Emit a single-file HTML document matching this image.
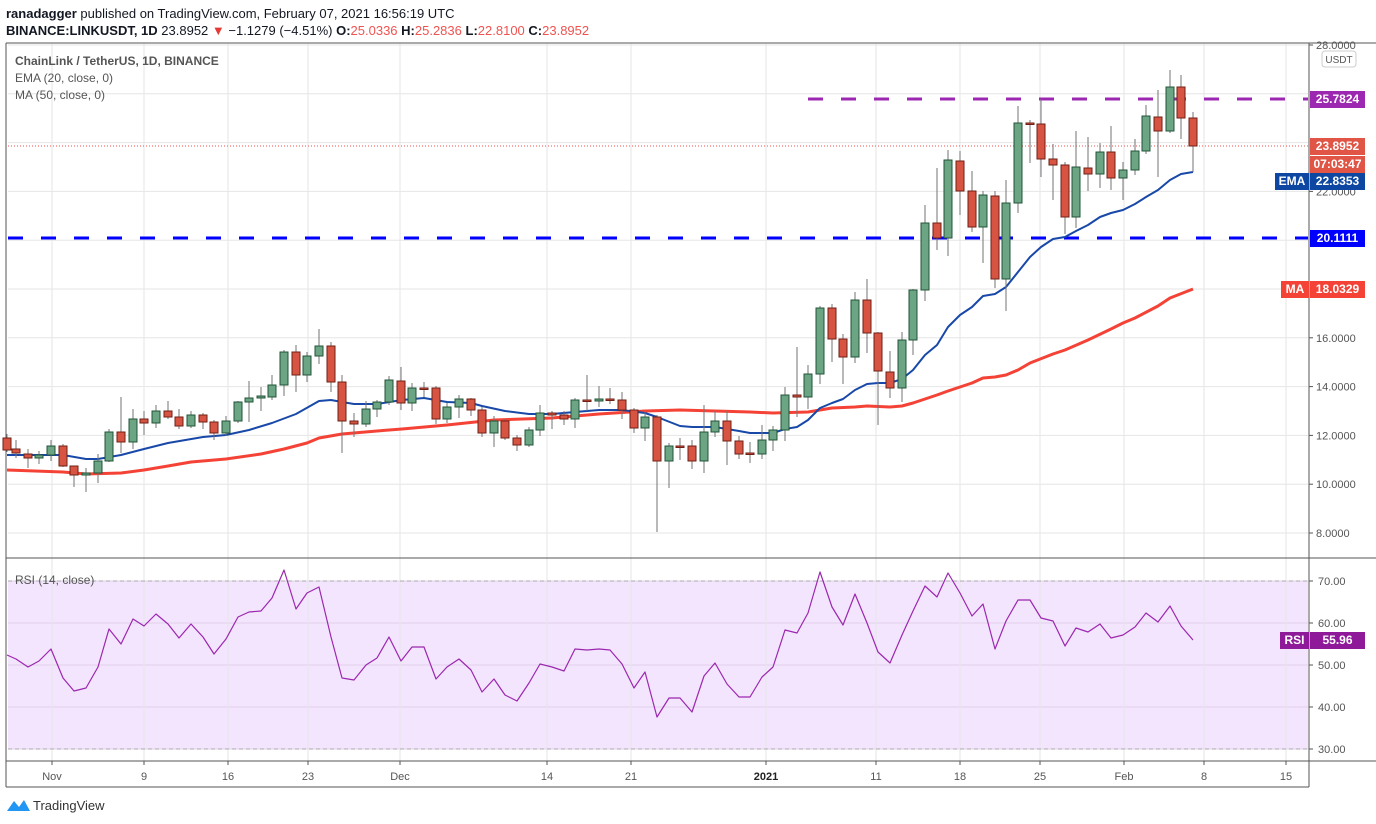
<!DOCTYPE html>
<html><head><meta charset="utf-8"><style>
html,body{margin:0;padding:0;background:#fff;width:1376px;height:824px;overflow:hidden;font-family:"Liberation Sans",sans-serif}
svg{position:absolute;left:0;top:0}
</style></head><body>
<svg id="s" width="1376" height="824" xmlns="http://www.w3.org/2000/svg" font-family="Liberation Sans, sans-serif">
<text x="6" y="18" font-size="13" fill="#131722"><tspan font-weight="bold">ranadagger</tspan> published on TradingView.com, February 07, 2021 16:56:19 UTC</text>
<text x="6" y="35" font-size="13" fill="#131722"><tspan font-weight="bold">BINANCE:LINKUSDT, 1D</tspan> 23.8952 <tspan fill="#e53935">▼</tspan> −1.1279 (−4.51%) <tspan font-weight="bold">O:</tspan><tspan fill="#ef5350">25.0336</tspan> <tspan font-weight="bold">H:</tspan><tspan fill="#ef5350">25.2836</tspan> <tspan font-weight="bold">L:</tspan><tspan fill="#ef5350">22.8100</tspan> <tspan font-weight="bold">C:</tspan><tspan fill="#ef5350">23.8952</tspan></text>
<g id="g"></g>
</svg>
<script>
var S='';
function L(x1,y1,x2,y2,c,w,d){S+='<line x1="'+x1+'" y1="'+y1+'" x2="'+x2+'" y2="'+y2+'" stroke="'+c+'" stroke-width="'+(w||1)+'"'+(d?' stroke-dasharray="'+d+'"':'')+'/>';}
function T(x,y,t,o){o=o||{};S+='<text x="'+x+'" y="'+y+'" font-size="'+(o.s||12)+'" fill="'+(o.c||'#4a4a4a')+'"'+(o.a?' text-anchor="'+o.a+'"':'')+(o.b?' font-weight="bold"':'')+'>'+t+'</text>';}
function R(x,y,w,h,f,st){S+='<rect x="'+x+'" y="'+y+'" width="'+w+'" height="'+h+'" fill="'+f+'"'+(st?' stroke="'+st+'"':'')+'/>';}
// RSI background
R(8,581,1300,168,'#f3e5fd');
// grid
var px=function(p){return 45+(28-p)*24.4;};
for(var p=8;p<=28;p+=2)L(8,px(p),1308,px(p),'#e6e6e6');
for(var r=30;r<=70;r+=10)L(8,581+(70-r)*4.2,1308,581+(70-r)*4.2,'#e0d0ea');
var dates=[[52,'Nov'],[144,'9'],[228,'16'],[308,'23'],[400,'Dec'],[547,'14'],[631,'21'],[766,'2021',1],[876,'11'],[960,'18'],[1040,'25'],[1124,'Feb'],[1204,'8'],[1286,'15']];
dates.forEach(function(d){L(d[0],43,d[0],761,'#e6e6e6');L(d[0],761,d[0],765,'#555');T(d[0],780,d[1],{a:'middle',s:11,b:d[2],c:d[2]?'#222':'#555'});});
L(8,581,1308,581,'#aaa',1,'4 3');L(8,749,1308,749,'#aaa',1,'4 3');
// frame
L(6,43,1376,43,'#555');L(6,43,6,787,'#555');L(1309,43,1309,787,'#555');L(6,558,1376,558,'#555');L(6,761,1376,761,'#555');L(6,787,1309,787,'#555');
// level lines
L(8,238,1308,238,'#0000ff',3,'15 18');
L(808,99,1308,99,'#9c27b0',3,'15 18');
L(8,146,1308,146,'#ef5350',1,'1 2');
// MA/EMA
var ema=[7,455,63,455,86,459,98,459,121,455,144,449,168,443,203,437,226,435,249,430,272,423,296,414,319,401,331,400,342,402,354,404,377,404,402,400,424,398,447,402,471,403,482,406,505,411,529,414,552,414,575,412,599,410,622,410,645,413,657,417,680,426,692,427,715,427,739,431,750,433,773,433,785,429,797,427,808,420,820,408,832,403,843,399,855,390,867,384,878,383,890,383,902,379,913,370,925,355,937,345,948,327,960,315,972,307,983,296,995,294,1006,287,1018,272,1030,257,1041,247,1053,239,1065,237,1076,231,1088,225,1100,217,1111,213,1123,210,1135,204,1146,197,1158,190,1170,180,1181,174,1193,172];
var ma=[7,470,63,472,86,474,121,473,144,470,168,466,191,462,226,459,261,454,284,449,307,443,319,438,342,434,377,431,402,429,447,425,494,420,552,418,599,414,645,411,680,410,715,411,750,412,773,413,808,412,820,410,832,408,855,407,867,406,890,407,902,406,913,403,925,399,937,395,948,391,960,387,972,383,983,378,995,377,1006,375,1018,370,1030,363,1053,354,1065,350,1088,340,1111,329,1123,323,1135,318,1158,306,1170,298,1193,289];
function PL(a,c,w){var s='';for(var i=0;i<a.length;i+=2)s+=a[i]+','+a[i+1]+' ';S+='<polyline points="'+s+'" fill="none" stroke="'+c+'" stroke-width="'+w+'" stroke-linejoin="round"/>';}
PL(ma,'#f44336',3);PL(ema,'#1848a8',2);
// candles x,top,bot,wt,wb,c
var C=[[7,438,450,434,452,'r'],[16,449,453,440,458,'r'],[28,454,458,449,468,'r'],[39,455,458,451,464,'g'],[51,446,455,440,461,'g'],[63,446,466,444,467,'r'],[74,466,475,466,487,'r'],[86,473,475,468,492,'g'],[98,461,473,454,483,'g'],[109,432,461,429,462,'g'],[121,432,442,397,453,'r'],[133,419,442,409,449,'g'],[144,419,423,411,435,'r'],[156,411,423,405,428,'g'],[168,411,417,401,419,'r'],[179,417,426,409,429,'r'],[191,415,426,411,428,'g'],[203,415,422,413,429,'r'],[214,422,433,420,440,'r'],[226,421,433,416,436,'g'],[238,402,421,401,423,'g'],[249,398,402,381,422,'g'],[261,396,398,387,411,'g'],[272,385,397,375,400,'g'],[284,352,385,350,396,'g'],[296,352,375,345,392,'r'],[307,356,375,352,382,'g'],[319,346,356,329,364,'g'],[331,346,382,342,392,'r'],[342,382,421,375,453,'r'],[354,421,424,413,437,'r'],[366,409,424,401,427,'g'],[377,402,409,400,417,'g'],[389,380,402,376,405,'g'],[401,381,403,367,410,'r'],[412,388,403,383,411,'g'],[424,388,389,382,397,'r'],[436,388,419,386,424,'r'],[447,407,419,403,423,'g'],[459,399,407,395,418,'g'],[471,399,410,398,416,'r'],[482,410,433,407,437,'r'],[494,421,433,416,447,'g'],[505,421,438,419,440,'r'],[517,438,445,435,451,'r'],[529,430,445,427,447,'g'],[540,413,430,405,436,'g'],[552,413,415,411,429,'r'],[564,415,419,411,425,'r'],[575,400,419,398,428,'g'],[587,400,401,375,411,'r'],[599,399,401,386,407,'g'],[610,399,400,388,404,'r'],[622,400,410,392,419,'r'],[634,410,428,408,433,'r'],[645,417,428,412,441,'g'],[657,417,461,415,532,'r'],[669,446,461,443,488,'g'],[680,446,447,438,460,'r'],[692,446,461,440,469,'r'],[704,432,461,405,473,'g'],[715,421,432,411,437,'g'],[727,421,441,411,465,'r'],[739,441,454,436,459,'r'],[750,453,454,442,463,'r'],[762,440,454,425,459,'g'],[773,430,440,426,451,'g'],[785,395,430,387,441,'g'],[797,395,397,347,417,'r'],[808,374,397,365,409,'g'],[820,308,374,306,384,'g'],[832,308,339,304,362,'r'],[843,339,357,334,384,'r'],[855,300,357,292,363,'g'],[867,300,333,279,353,'r'],[878,333,371,332,425,'r'],[890,372,388,351,398,'r'],[902,340,388,332,402,'g'],[913,290,340,289,355,'g'],[925,223,290,205,301,'g'],[937,223,238,168,250,'r'],[948,160,238,150,256,'g'],[960,161,191,151,215,'r'],[972,191,227,171,232,'r'],[983,195,227,191,263,'g'],[995,196,279,191,288,'r'],[1006,203,279,180,311,'g'],[1018,123,203,106,213,'g'],[1030,123,124,120,163,'r'],[1041,124,159,99,177,'r'],[1053,159,165,144,200,'r'],[1065,165,217,162,234,'r'],[1076,167,217,131,228,'g'],[1088,168,174,137,191,'r'],[1100,152,174,143,188,'g'],[1111,152,178,126,190,'r'],[1123,170,178,162,200,'g'],[1135,151,170,139,175,'g'],[1146,116,151,105,154,'g'],[1158,117,131,90,177,'r'],[1170,87,131,70,133,'g'],[1181,87,118,75,139,'r'],[1193,118,146,112,172,'r']];
C.forEach(function(c){L(c[0],c[3],c[0],c[4],'#737375');var h=Math.max(c[2]-c[1],1.5);
R(c[0]-4,c[1],8,h,c[5]=='g'?'#6ba583':'#d75442',c[5]=='g'?'#225437':'#6f1f15');});
// RSI
var ry=[655,659,667,661,649,678,691,688,667,629,644,619,626,614,624,638,624,637,654,639,617,612,611,598,570,609,593,587,637,678,680,665,658,637,661,647,647,679,667,659,670,692,679,695,701,683,664,667,671,649,650,649,650,664,688,672,717,698,698,712,676,663,684,697,697,677,667,630,633,613,572,607,625,594,623,652,663,635,611,586,597,573,593,616,604,649,621,600,600,618,621,646,628,632,624,638,635,627,613,622,606,626,640];
var ra=[];for(var i=0;i<ry.length;i++){ra.push(C[i]?C[i][0]:7+i*11.63,ry[i]);}
PL(ra,'#9c27b0',1.2);
// legends
T(15,65,'ChainLink / TetherUS, 1D, BINANCE',{s:12,c:'#555',b:1});
T(15,82,'EMA (20, close, 0)',{s:12,c:'#555'});
T(15,99,'MA (50, close, 0)',{s:12,c:'#555'});
T(15,584,'RSI (14, close)',{s:12,c:'#555'});
// right axis
[[28,'28.0000'],[22,'22.0000'],[16,'16.0000'],[14,'14.0000'],[12,'12.0000'],[10,'10.0000'],[8,'8.0000']].forEach(function(a){var y=px(a[0]);L(1309,y,1313,y,'#555');T(1316,y+4,a[1],{s:11,c:'#555'});});
[[70,'70.00'],[60,'60.00'],[50,'50.00'],[40,'40.00'],[30,'30.00']].forEach(function(a){var y=581+(70-a[0])*4.2;L(1309,y,1313,y,'#555');T(1318,y+4,a[1],{s:11,c:'#555'});});
S+='<rect x="1322" y="51" width="34" height="16" rx="3" fill="#fff" stroke="#ccc"/>';T(1339,63,'USDT',{s:10,a:'middle',c:'#555'});
function B(x,y,w,f,t){R(x,y-8,w,17,f);T(x+w/2,y+4,t,{s:12,c:'#fff',a:'middle',b:1});}
B(1310,99,55,'#9c27b0','25.7824');
B(1310,146,55,'#e05545','23.8952');
B(1310,164,55,'#e05545','07:03:47');
B(1275,181,34,'#0d47a1','EMA');B(1310,181,55,'#0d47a1','22.8353');
B(1310,238,55,'#0000ff','20.1111');
B(1281,289,28,'#f44336','MA');B(1310,289,55,'#f44336','18.0329');
B(1280,640,29,'#8e1a9a','RSI');B(1310,640,55,'#8e1a9a','55.96');
// footer logo
S+='<path d="M7 811 L14 801 L19 807 L24 800 L30 811 Z" fill="#2196f3"/>';
T(33,810,'TradingView',{s:13,c:'#333'});
document.getElementById('g').innerHTML=S;
</script>
</body></html>
